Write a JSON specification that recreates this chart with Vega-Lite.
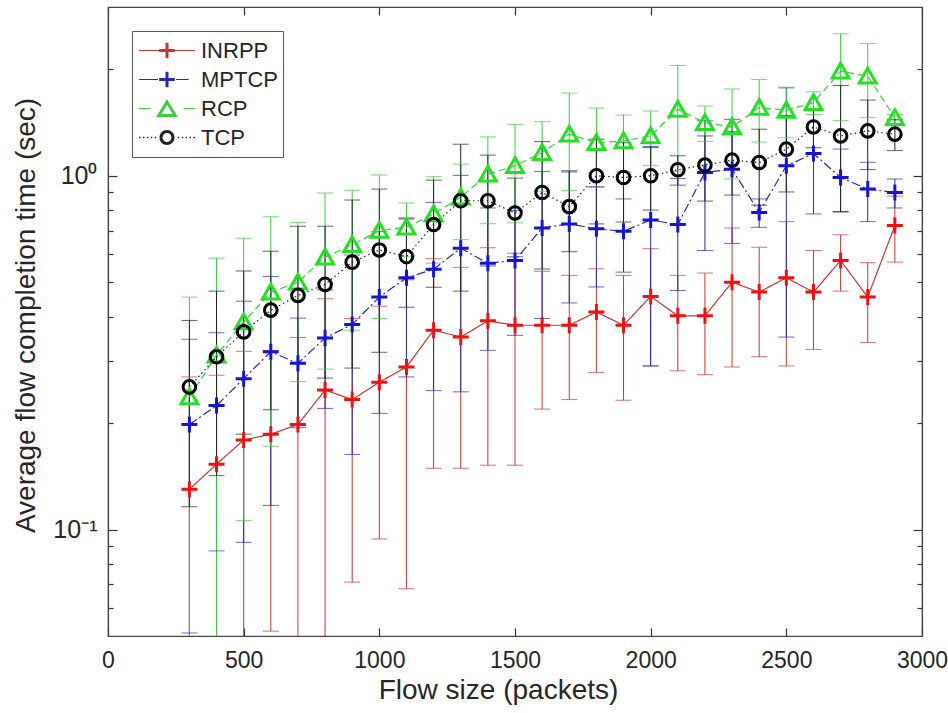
{
  "$schema": "https://vega.github.io/schema/vega-lite/v6.json",
  "width": 814,
  "height": 629,
  "autosize": "none",
  "padding": {"left": 108, "top": 7, "right": 26, "bottom": 77},
  "background": "white",
  "config": {
    "view": {"stroke": "#555555", "strokeWidth": 1.2},
    "font": "Liberation Sans",
    "axis": {
      "labelFont": "Liberation Sans", "titleFont": "Liberation Sans",
      "labelColor": "#262626", "titleColor": "#262626",
      "domainColor": "#444444", "tickColor": "#333333", "domainWidth": 1.2, "tickWidth": 1.2,
      "grid": false, "labelFontSize": 23, "titleFontSize": 28, "titleFontWeight": "normal", "labelFlush": false
    }
  },
  "data": {"values": [
    {"series":"INRPP","size":300,"mean":0.130,"lo":0.001,"hi":0.270},
    {"series":"INRPP","size":400,"mean":0.153,"lo":0.033,"hi":0.273},
    {"series":"INRPP","size":500,"mean":0.179,"lo":0.039,"hi":0.319},
    {"series":"INRPP","size":600,"mean":0.186,"lo":0.0516,"hi":0.320},
    {"series":"INRPP","size":700,"mean":0.198,"lo":0.047,"hi":0.349},
    {"series":"INRPP","size":800,"mean":0.248,"lo":0.047,"hi":0.449},
    {"series":"INRPP","size":900,"mean":0.233,"lo":0.071,"hi":0.395},
    {"series":"INRPP","size":1000,"mean":0.261,"lo":0.094,"hi":0.428},
    {"series":"INRPP","size":1100,"mean":0.288,"lo":0.068,"hi":0.508},
    {"series":"INRPP","size":1200,"mean":0.366,"lo":0.149,"hi":0.583},
    {"series":"INRPP","size":1300,"mean":0.350,"lo":0.149,"hi":0.551},
    {"series":"INRPP","size":1400,"mean":0.389,"lo":0.152,"hi":0.626},
    {"series":"INRPP","size":1500,"mean":0.378,"lo":0.152,"hi":0.604},
    {"series":"INRPP","size":1600,"mean":0.378,"lo":0.219,"hi":0.537},
    {"series":"INRPP","size":1700,"mean":0.378,"lo":0.233,"hi":0.523},
    {"series":"INRPP","size":1800,"mean":0.412,"lo":0.278,"hi":0.546},
    {"series":"INRPP","size":1900,"mean":0.378,"lo":0.232,"hi":0.523},
    {"series":"INRPP","size":2000,"mean":0.456,"lo":0.290,"hi":0.622},
    {"series":"INRPP","size":2100,"mean":0.402,"lo":0.281,"hi":0.523},
    {"series":"INRPP","size":2200,"mean":0.402,"lo":0.274,"hi":0.531},
    {"series":"INRPP","size":2300,"mean":0.500,"lo":0.288,"hi":0.712},
    {"series":"INRPP","size":2400,"mean":0.469,"lo":0.308,"hi":0.628},
    {"series":"INRPP","size":2500,"mean":0.515,"lo":0.290,"hi":0.742},
    {"series":"INRPP","size":2600,"mean":0.469,"lo":0.323,"hi":0.615},
    {"series":"INRPP","size":2700,"mean":0.576,"lo":0.472,"hi":0.681},
    {"series":"INRPP","size":2800,"mean":0.454,"lo":0.338,"hi":0.568},
    {"series":"INRPP","size":2900,"mean":0.723,"lo":0.570,"hi":0.876},
    {"series":"MPTCP","size":300,"mean":0.198,"lo":0.051,"hi":0.345},
    {"series":"MPTCP","size":400,"mean":0.224,"lo":0.087,"hi":0.360},
    {"series":"MPTCP","size":500,"mean":0.267,"lo":0.092,"hi":0.442},
    {"series":"MPTCP","size":600,"mean":0.318,"lo":0.117,"hi":0.519},
    {"series":"MPTCP","size":700,"mean":0.295,"lo":0.194,"hi":0.396},
    {"series":"MPTCP","size":800,"mean":0.348,"lo":0.220,"hi":0.476},
    {"series":"MPTCP","size":900,"mean":0.380,"lo":0.163,"hi":0.597},
    {"series":"MPTCP","size":1000,"mean":0.454,"lo":0.213,"hi":0.695},
    {"series":"MPTCP","size":1100,"mean":0.515,"lo":0.270,"hi":0.760},
    {"series":"MPTCP","size":1200,"mean":0.544,"lo":0.247,"hi":0.841},
    {"series":"MPTCP","size":1300,"mean":0.624,"lo":0.245,"hi":1.003},
    {"series":"MPTCP","size":1400,"mean":0.566,"lo":0.321,"hi":0.811},
    {"series":"MPTCP","size":1500,"mean":0.576,"lo":0.354,"hi":0.798},
    {"series":"MPTCP","size":1600,"mean":0.712,"lo":0.395,"hi":1.029},
    {"series":"MPTCP","size":1700,"mean":0.731,"lo":0.437,"hi":1.025},
    {"series":"MPTCP","size":1800,"mean":0.708,"lo":0.485,"hi":0.931},
    {"series":"MPTCP","size":1900,"mean":0.697,"lo":0.534,"hi":0.860},
    {"series":"MPTCP","size":2000,"mean":0.750,"lo":0.290,"hi":1.210},
    {"series":"MPTCP","size":2100,"mean":0.728,"lo":0.474,"hi":0.982},
    {"series":"MPTCP","size":2200,"mean":1.022,"lo":0.615,"hi":1.430},
    {"series":"MPTCP","size":2300,"mean":1.044,"lo":0.644,"hi":1.444},
    {"series":"MPTCP","size":2400,"mean":0.788,"lo":0.715,"hi":0.860},
    {"series":"MPTCP","size":2500,"mean":1.067,"lo":0.350,"hi":1.772},
    {"series":"MPTCP","size":2600,"mean":1.156,"lo":0.780,"hi":1.532},
    {"series":"MPTCP","size":2700,"mean":0.989,"lo":0.790,"hi":1.190},
    {"series":"MPTCP","size":2800,"mean":0.917,"lo":0.742,"hi":1.092},
    {"series":"MPTCP","size":2900,"mean":0.897,"lo":0.811,"hi":0.979},
    {"series":"RCP","size":300,"mean":0.237,"lo":0.020,"hi":0.454},
    {"series":"RCP","size":400,"mean":0.311,"lo":0.037,"hi":0.585},
    {"series":"RCP","size":500,"mean":0.386,"lo":0.106,"hi":0.666},
    {"series":"RCP","size":600,"mean":0.469,"lo":0.172,"hi":0.766},
    {"series":"RCP","size":700,"mean":0.500,"lo":0.262,"hi":0.738},
    {"series":"RCP","size":800,"mean":0.589,"lo":0.284,"hi":0.894},
    {"series":"RCP","size":900,"mean":0.638,"lo":0.366,"hi":0.910},
    {"series":"RCP","size":1000,"mean":0.700,"lo":0.395,"hi":1.005},
    {"series":"RCP","size":1100,"mean":0.715,"lo":0.592,"hi":0.838},
    {"series":"RCP","size":1200,"mean":0.780,"lo":0.566,"hi":0.994},
    {"series":"RCP","size":1300,"mean":0.870,"lo":0.660,"hi":1.079},
    {"series":"RCP","size":1400,"mean":1.010,"lo":0.732,"hi":1.288},
    {"series":"RCP","size":1500,"mean":1.067,"lo":0.736,"hi":1.398},
    {"series":"RCP","size":1600,"mean":1.163,"lo":0.904,"hi":1.422},
    {"series":"RCP","size":1700,"mean":1.311,"lo":0.909,"hi":1.713},
    {"series":"RCP","size":1800,"mean":1.241,"lo":0.928,"hi":1.554},
    {"series":"RCP","size":1900,"mean":1.255,"lo":1.025,"hi":1.485},
    {"series":"RCP","size":2000,"mean":1.296,"lo":1.068,"hi":1.524},
    {"series":"RCP","size":2100,"mean":1.541,"lo":1.030,"hi":2.050},
    {"series":"RCP","size":2200,"mean":1.413,"lo":1.251,"hi":1.575},
    {"series":"RCP","size":2300,"mean":1.374,"lo":0.980,"hi":1.760},
    {"series":"RCP","size":2400,"mean":1.559,"lo":1.246,"hi":1.872},
    {"series":"RCP","size":2500,"mean":1.531,"lo":1.280,"hi":1.780},
    {"series":"RCP","size":2600,"mean":1.609,"lo":1.490,"hi":1.727},
    {"series":"RCP","size":2700,"mean":1.976,"lo":1.432,"hi":2.520},
    {"series":"RCP","size":2800,"mean":1.913,"lo":1.460,"hi":2.365},
    {"series":"RCP","size":2900,"mean":1.459,"lo":1.430,"hi":1.490},
    {"series":"TCP","size":300,"mean":0.253,"lo":0.116,"hi":0.390},
    {"series":"TCP","size":400,"mean":0.308,"lo":0.142,"hi":0.472},
    {"series":"TCP","size":500,"mean":0.362,"lo":0.186,"hi":0.538},
    {"series":"TCP","size":600,"mean":0.417,"lo":0.218,"hi":0.612},
    {"series":"TCP","size":700,"mean":0.459,"lo":0.198,"hi":0.720},
    {"series":"TCP","size":800,"mean":0.493,"lo":0.268,"hi":0.720},
    {"series":"TCP","size":900,"mean":0.570,"lo":0.286,"hi":0.854},
    {"series":"TCP","size":1000,"mean":0.617,"lo":0.317,"hi":0.917},
    {"series":"TCP","size":1100,"mean":0.591,"lo":0.425,"hi":0.755},
    {"series":"TCP","size":1200,"mean":0.728,"lo":0.484,"hi":0.972},
    {"series":"TCP","size":1300,"mean":0.850,"lo":0.472,"hi":1.228},
    {"series":"TCP","size":1400,"mean":0.850,"lo":0.556,"hi":1.144},
    {"series":"TCP","size":1500,"mean":0.785,"lo":0.590,"hi":0.985},
    {"series":"TCP","size":1600,"mean":0.897,"lo":0.545,"hi":1.249},
    {"series":"TCP","size":1700,"mean":0.818,"lo":0.610,"hi":1.033},
    {"series":"TCP","size":1800,"mean":1.000,"lo":0.731,"hi":1.269},
    {"series":"TCP","size":1900,"mean":0.989,"lo":0.740,"hi":1.240},
    {"series":"TCP","size":2000,"mean":1.000,"lo":0.800,"hi":1.201},
    {"series":"TCP","size":2100,"mean":1.040,"lo":0.941,"hi":1.139},
    {"series":"TCP","size":2200,"mean":1.072,"lo":0.848,"hi":1.296},
    {"series":"TCP","size":2300,"mean":1.107,"lo":0.882,"hi":1.332},
    {"series":"TCP","size":2400,"mean":1.090,"lo":0.826,"hi":1.354},
    {"series":"TCP","size":2500,"mean":1.189,"lo":0.900,"hi":1.480},
    {"series":"TCP","size":2600,"mean":1.374,"lo":1.200,"hi":1.550},
    {"series":"TCP","size":2700,"mean":1.296,"lo":0.792,"hi":1.800},
    {"series":"TCP","size":2800,"mean":1.339,"lo":1.041,"hi":1.637},
    {"series":"TCP","size":2900,"mean":1.311,"lo":1.178,"hi":1.444}
  ]},
  "layer": [
    {
      "encoding": {
        "x": {"field": "size", "type": "quantitative", "scale": {"domain": [0, 3000], "nice": false, "zero": false},
          "axis": {"values": [0, 500, 1000, 1500, 2000, 2500, 3000], "format": "d", "tickSize": -8, "labelPadding": 21, "title": "Flow size (packets)", "titlePadding": 4, "titleX": 390}}
      },
      "layer": [
        {
          "mark": {"type": "rule", "strokeWidth": 1, "clip": true},
          "encoding": {
            "y": {"field": "lo", "type": "quantitative", "scale": {"type": "log", "domain": [0.05, 3], "nice": false},
              "axis": {"values": [0.06, 0.07, 0.08, 0.09, 0.1, 0.2, 0.3, 0.4, 0.5, 0.6, 0.7, 0.8, 0.9, 1, 2],
                "labelExpr": "datum.value == 1 ? '10⁰' : (datum.value == 0.1 ? '10⁻¹' : '')",
                "labelFontSize": 25,
                "tickSize": {"condition": {"test": "datum.value == 1 || datum.value == 0.1", "value": -9}, "value": -5},
                "labelPadding": 20, "title": "Average flow completion time (sec)", "titlePadding": 12, "titleY": 308}},
            "y2": {"field": "hi"},
            "color": {"field": "series", "type": "nominal",
              "scale": {"domain": ["INRPP", "MPTCP", "RCP", "TCP"], "range": ["#c83434", "#2a2aa8", "#3ccc3c", "#222222"]},
              "legend": {"orient": "none", "legendX": 24, "legendY": 24, "title": null, "symbolSize": 3600, "clipHeight": 29,
                "labelFontSize": 22, "labelFont": "Liberation Sans", "labelColor": "#262626", "labelOffset": 4, "padding": 5,
                "strokeColor": "#555555", "fillColor": "white", "rowPadding": 0,
                "encode": {"symbols": {"update": {
                  "shape": {"signal": "datum.value === 'INRPP' ? 'M-0.93,-0.02H0.93V0.02H-0.93Z M-0.26,-0.05H0.26V0.05H-0.26Z M-0.05,-0.26H0.05V0.26H-0.05Z' : datum.value === 'MPTCP' ? 'M-0.93,-0.02H-0.3V0.02H-0.93Z M0.3,-0.02H0.72V0.02H0.3Z M-0.26,-0.05H0.26V0.05H-0.26Z M-0.05,-0.26H0.05V0.26H-0.05Z' : datum.value === 'RCP' ? 'M-0.93,-0.02H-0.55V0.02H-0.93Z M0.55,-0.02H0.93V0.02H0.55Z M0,-0.32L0.36,0.28L-0.36,0.28Z M0,-0.126L-0.184,0.18L0.184,0.18Z' : 'M-0.93,-0.025h0.05v0.05h-0.05Z M-0.80,-0.025h0.05v0.05h-0.05Z M-0.67,-0.025h0.05v0.05h-0.05Z M-0.54,-0.025h0.05v0.05h-0.05Z M-0.41,-0.025h0.05v0.05h-0.05Z M0.36,-0.025h0.05v0.05h-0.05Z M0.49,-0.025h0.05v0.05h-0.05Z M0.62,-0.025h0.05v0.05h-0.05Z M0.75,-0.025h0.05v0.05h-0.05Z M0.88,-0.025h0.05v0.05h-0.05Z M0.25,0C0.25,0.138 0.138,0.25 0,0.25C-0.138,0.25 -0.25,0.138 -0.25,0C-0.25,-0.138 -0.138,-0.25 0,-0.25C0.138,-0.25 0.25,-0.138 0.25,0Z M0.15,0C0.15,-0.083 0.083,-0.15 0,-0.15C-0.083,-0.15 -0.15,-0.083 -0.15,0C-0.15,0.083 -0.083,0.15 0,0.15C0.083,0.15 0.15,0.083 0.15,0Z'"},
                  "fill": {"signal": "datum.value === 'INRPP' ? '#e41a1c' : datum.value === 'MPTCP' ? '#1a1ac8' : datum.value === 'RCP' ? '#22dd22' : '#111111'"},
                  "fillOpacity": {"value": 1},
                  "opacity": {"value": 1},
                  "stroke": {"value": "transparent"},
                  "strokeWidth": {"value": 0}
                }}}}}
          }
        },
        {
          "mark": {"type": "tick", "orient": "horizontal", "size": 16, "thickness": 1, "clip": true},
          "encoding": {
            "y": {"field": "lo", "type": "quantitative", "scale": {"type": "log", "domain": [0.05, 3], "nice": false}},
            "color": {"field": "series", "type": "nominal", "scale": {"domain": ["INRPP", "MPTCP", "RCP", "TCP"], "range": ["#c83434", "#2a2aa8", "#3ccc3c", "#222222"]}}
          }
        },
        {
          "mark": {"type": "tick", "orient": "horizontal", "size": 16, "thickness": 1, "clip": true},
          "encoding": {
            "y": {"field": "hi", "type": "quantitative", "scale": {"type": "log", "domain": [0.05, 3], "nice": false}},
            "color": {"field": "series", "type": "nominal", "scale": {"domain": ["INRPP", "MPTCP", "RCP", "TCP"], "range": ["#c83434", "#2a2aa8", "#3ccc3c", "#222222"]}}
          }
        },
        {
          "mark": {"type": "line", "strokeWidth": 1.2, "clip": true},
          "encoding": {
            "y": {"field": "mean", "type": "quantitative", "scale": {"type": "log", "domain": [0.05, 3], "nice": false}},
            "color": {"field": "series", "type": "nominal", "scale": {"domain": ["INRPP", "MPTCP", "RCP", "TCP"], "range": ["#c83434", "#2a2aa8", "#3ccc3c", "#222222"]}},
            "strokeDash": {"field": "series", "type": "nominal", "legend": null,
              "scale": {"domain": ["INRPP", "MPTCP", "RCP", "TCP"], "range": [[1, 0], [9, 3, 2, 3], [7, 4], [1.5, 3]]}}
          }
        },
        {
          "transform": [{"filter": "datum.series === 'INRPP'"}],
          "mark": {"type": "point", "shape": "M-1,0H1M0,-1V1", "filled": false, "size": 256, "strokeWidth": 3, "color": "#ee1111", "opacity": 1, "clip": true},
          "encoding": {"y": {"field": "mean", "type": "quantitative", "scale": {"type": "log", "domain": [0.05, 3], "nice": false}}}
        },
        {
          "transform": [{"filter": "datum.series === 'MPTCP'"}],
          "mark": {"type": "point", "shape": "M-1,0H1M0,-1V1", "filled": false, "size": 256, "strokeWidth": 3, "color": "#1414d2", "opacity": 1, "clip": true},
          "encoding": {"y": {"field": "mean", "type": "quantitative", "scale": {"type": "log", "domain": [0.05, 3], "nice": false}}}
        },
        {
          "transform": [{"filter": "datum.series === 'RCP'"}],
          "mark": {"type": "point", "shape": "M0,-1L1.05,0.85L-1.05,0.85Z", "filled": false, "size": 256, "strokeWidth": 3, "color": "#22e022", "opacity": 1, "clip": true},
          "encoding": {"y": {"field": "mean", "type": "quantitative", "scale": {"type": "log", "domain": [0.05, 3], "nice": false}}}
        },
        {
          "transform": [{"filter": "datum.series === 'TCP'"}],
          "mark": {"type": "point", "shape": "M0.79,0C0.79,0.436 0.436,0.79 0,0.79C-0.436,0.79 -0.79,0.436 -0.79,0C-0.79,-0.436 -0.436,-0.79 0,-0.79C0.436,-0.79 0.79,-0.436 0.79,0Z", "filled": false, "size": 256, "strokeWidth": 3, "color": "#000000", "opacity": 1, "clip": true},
          "encoding": {"y": {"field": "mean", "type": "quantitative", "scale": {"type": "log", "domain": [0.05, 3], "nice": false}}}
        }
      ]
    },
    {
      "mark": {"type": "point", "opacity": 0},
      "encoding": {
        "x": {"field": "size", "type": "quantitative", "scale": {"domain": [0, 3000], "nice": false, "zero": false},
          "axis": {"orient": "top", "values": [0, 500, 1000, 1500, 2000, 2500, 3000], "tickSize": -8, "ticks": true, "labels": false, "title": null, "domain": true}},
        "y": {"field": "mean", "type": "quantitative", "scale": {"type": "log", "domain": [0.05, 3], "nice": false},
          "axis": {"orient": "right", "values": [0.06, 0.07, 0.08, 0.09, 0.1, 0.2, 0.3, 0.4, 0.5, 0.6, 0.7, 0.8, 0.9, 1, 2], "labels": false, "title": null,
            "tickSize": {"condition": {"test": "datum.value == 1 || datum.value == 0.1", "value": -9}, "value": -5}}}
      }
    }
  ],
  "resolve": {"axis": {"x": "independent", "y": "independent"}}
}
